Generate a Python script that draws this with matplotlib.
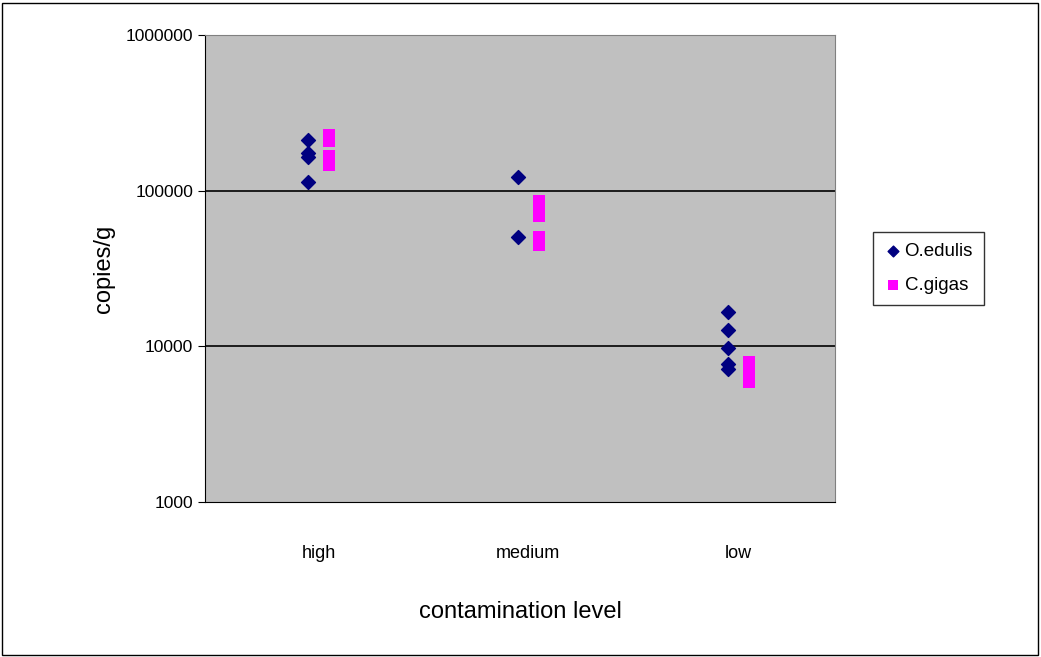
import matplotlib.pyplot as plt
from matplotlib.ticker import FixedLocator, NullLocator

categories = ['high', 'medium', 'low']
edulis_x = [1, 1, 1, 1, 2, 2, 3, 3, 3, 3, 3]
edulis_y = [212000, 175000, 165000, 114000, 123000, 50700, 16700, 12700, 9780, 7700, 7200]
gigas_x = [1, 1, 1, 1, 2, 2, 2, 2, 2, 3, 3, 3, 3]
gigas_y = [228000, 210000, 167000, 146000, 86000, 77400, 68900, 50700, 45000, 7980, 7210, 6540, 5870]

fig = plt.figure(figsize=(10.41, 6.57), dpi=100)
fig.patches.append(plt.Rectangle((0.002, 0.003), 0.995, 0.993, transform=fig.transFigure,
                                 fill=False, edgecolor='black', linewidth=1))
ax = fig.add_axes([205/1041, 1-502/657, 630/1041, 467/657])
ax.set_facecolor('#c0c0c0')
ax.set_yscale('log')
ax.set_ylim(1000, 1000000)
ax.set_xlim(0.5, 3.5)
for v in [10000, 100000]:
    ax.axhline(v, color='black', linewidth=1.2)

ax.scatter([x - 0.01 for x in edulis_x], edulis_y, marker='D', s=50, color='#000080',
           label='O.edulis', zorder=3)
ax.scatter([x + 0.09 for x in gigas_x], gigas_y, marker='s', s=65, color='#ff00ff',
           linewidths=0, label='C.gigas', zorder=3)

ax.yaxis.set_major_locator(FixedLocator([1000, 10000, 100000, 1000000]))
ax.yaxis.set_minor_locator(NullLocator())
ax.set_yticklabels(['1000', '10000', '100000', '1000000'], fontsize=12.5, family='Liberation Sans')
ax.set_xticks([1.04, 2.04, 3.04])
ax.set_xticklabels(categories, fontsize=13, family='Liberation Sans')
ax.tick_params(axis='x', length=0, pad=31)
ax.tick_params(axis='y', direction='out', length=5)
for s in ['top', 'right']:
    ax.spines[s].set_color('#808080')
ax.set_ylabel('copies/g', fontsize=17, family='Liberation Sans', labelpad=8)
ax.set_xlabel('contamination level', fontsize=17, family='Liberation Sans', labelpad=28)

leg = ax.legend(loc='center left', bbox_to_anchor=(1.045, 0.5), fancybox=False,
                edgecolor='black', handletextpad=0.1, borderpad=0.6, handlelength=1,
                labelspacing=0.9, prop={'family': 'Liberation Sans', 'size': 13.5},
                scatterpoints=1)
leg.legend_handles[0].set_sizes([30])
leg.legend_handles[1].set_sizes([45])

fig.savefig('out.png', dpi=100)
